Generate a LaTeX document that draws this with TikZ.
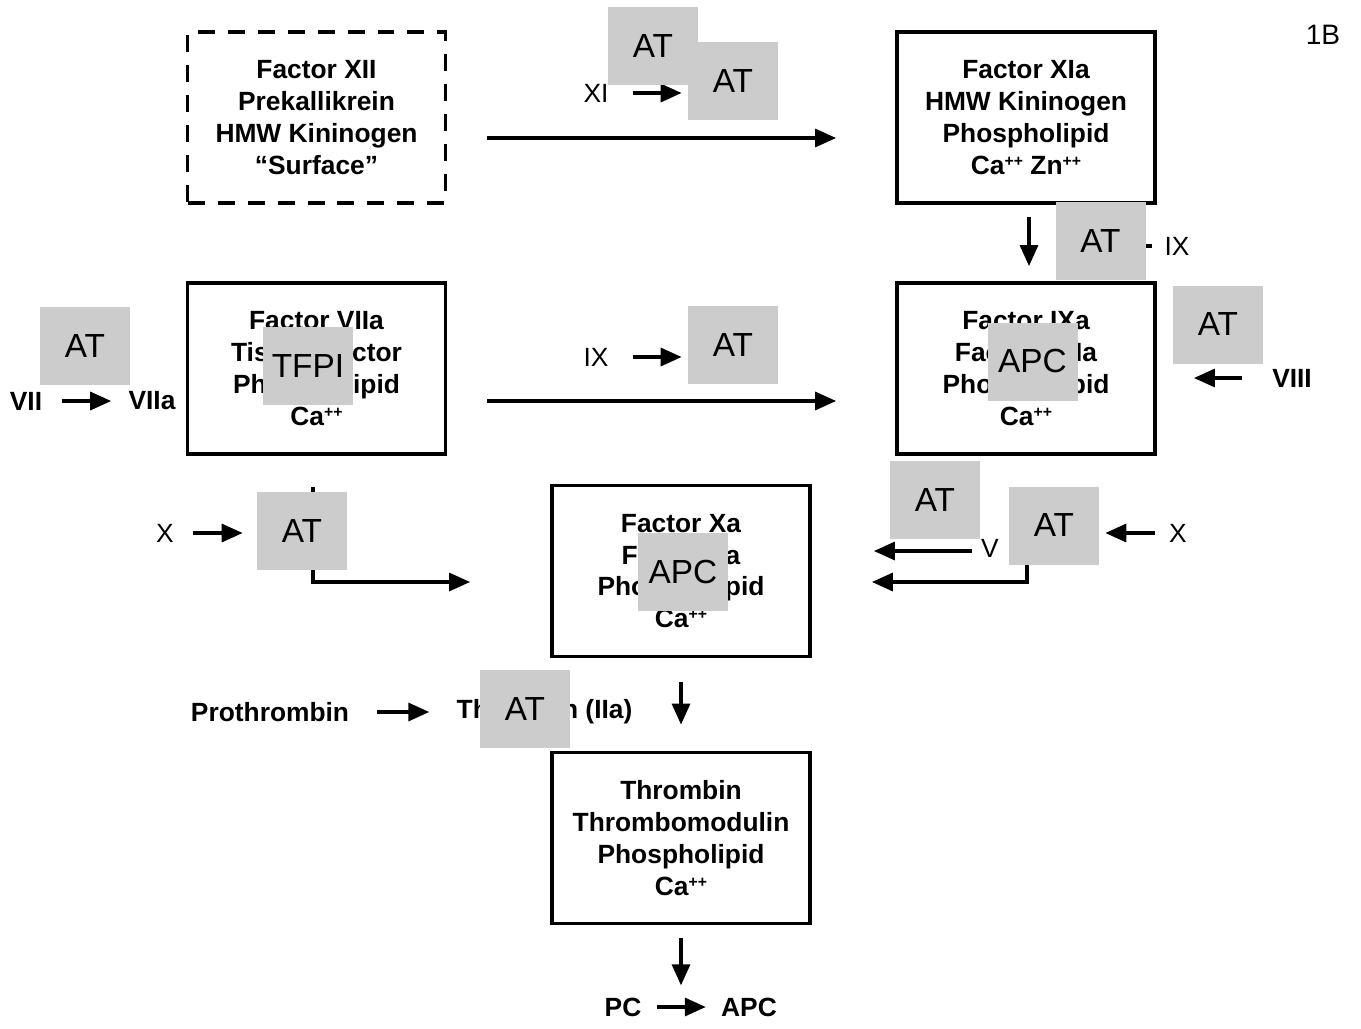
\documentclass[tikz,border=0pt]{standalone}
\usepackage{fontspec}
\setmainfont{Liberation Sans}
\usetikzlibrary{arrows.meta,backgrounds}
\definecolor{atgray}{HTML}{CCCCCC}
\newcommand{\ionpp}{\raisebox{0.55ex}{\fontsize{9}{9}\selectfont ++}}
\tikzset{
  cbox/.style={draw, line width=2.2pt, minimum width=5.16cm, minimum height=3.42cm, inner sep=0pt, align=center, font=\bfseries\fontsize{15}{18.1}\selectfont},
  gbox/.style={fill=atgray, minimum width=1.8cm, minimum height=1.56cm, inner sep=0pt, font=\fontsize{19}{22}\selectfont},
  lbl/.style={inner sep=0pt, font=\fontsize{15}{18}\selectfont},
  blbl/.style={inner sep=0pt, font=\bfseries\fontsize{15}{18}\selectfont},
  arr/.style={line width=1.9pt, -{Triangle[length=0.42cm,width=0.36cm]}},
}
\begin{document}
\begin{tikzpicture}[x=0.02cm,y=-0.02cm]
    \useasboundingbox (0,0) rectangle (1361,1028);
    % boxes
    \node[cbox, dash pattern=on 0.34cm off 0.26cm] (fxii) at (316.5,117.5) {Factor XII\\Prekallikrein\\HMW Kininogen\\“Surface”};
    \node[cbox] (fxia) at (1026,117.5) {Factor XIa\\HMW Kininogen\\Phospholipid\\Ca\ionpp{} Zn\ionpp};
    \node[cbox] (fviia) at (316.5,368.5) {Factor VIIa\\Tissue Factor\\Phospholipid\\Ca\ionpp};
    \node[cbox] (fixa) at (1026,368.5) {Factor IXa\\Factor VIIIa\\Phospholipid\\Ca\ionpp};
    \node[cbox] (fxa) at (681,571) {Factor Xa\\Factor Va\\Phospholipid\\Ca\ionpp};
    \node[cbox] (fth) at (681,838) {Thrombin\\Thrombomodulin\\Phospholipid\\Ca\ionpp};
    % labels
    \node[lbl] (xi) at (596,93) {XI};
    \node[lbl] (ixl) at (596,357) {IX};
    \node[lbl] (ixr) at (1177,246) {IX};
    \node[blbl] (vii) at (26,401) {VII};
    \node[blbl] (viia) at (152,401) {VIIa};
    \node[blbl] (viii) at (1292,378) {VIII};
    \node[lbl] (xl) at (165,533) {X};
    \node[lbl] (v) at (990,548) {V};
    \node[lbl] (xr) at (1178,533) {X};
    \node[blbl] (proth) at (270,712) {Prothrombin};
    \node[blbl] (thr) at (544.5,712) {Thrombin (IIa)};
    \node[blbl] (pc) at (623,1007) {PC};
    \node[blbl] (apc) at (749,1007) {APC};
    \node[lbl, font=\fontsize{16}{18}\selectfont] (fig) at (1323,35) {1B};
    % inhibitors
    \node[gbox] (at1) at (653,46) {AT};
    \node[gbox] (at2) at (733,81) {AT};
    \node[gbox] (at3) at (1100.5,241) {AT};
    \node[gbox] (at4) at (85,346) {AT};
    \node[gbox] (tfpi) at (308,366) {TFPI};
    \node[gbox] (at5) at (733,345) {AT};
    \node[gbox] (apc1) at (1032.5,361.5) {APC};
    \node[gbox] (at6) at (1218,324.5) {AT};
    \node[gbox] (at7) at (302,531) {AT};
    \node[gbox] (apc2) at (683,571.5) {APC};
    \node[gbox] (at8) at (935,500) {AT};
    \node[gbox] (at9) at (1054,525.5) {AT};
    \node[gbox] (at10) at (525,709) {AT};
    \coordinate (xin) at (313,487);
    \coordinate (vin) at (1027,540);
    % arrows
    \begin{pgfonlayer}{background}
    \draw[arr, shorten <=0.8cm, shorten >=1.18cm] ([yshift=-0.41cm]fxii.east) -- ([yshift=-0.41cm]fxia.west);
    \draw[arr, shorten <=0.8cm, shorten >=1.18cm] ([yshift=-0.65cm]fviia.east) -- ([yshift=-0.65cm]fixa.west);
    \draw[arr, shorten <=0.24cm, shorten >=0.3cm] ([xshift=0.06cm]fxia.south) -- ([xshift=0.06cm]fixa.north);
    \draw[arr, shorten <=0.48cm, shorten >=0.12cm] (xi.east) -- (xi.east -| at2.west);
    \draw[arr, shorten <=0.48cm, shorten >=0.12cm] (ixl.east) -- (ixl.east -| at5.west);
    \draw[arr, shorten <=0.24cm] (ixr.west) -- ([xshift=-0.9cm]ixr.west -| at3.east);
    \draw[arr, shorten <=0.4cm, shorten >=0.34cm] (vii.east) -- (viia.west);
    \draw[arr, shorten <=0.6cm, shorten >=0.74cm] (viii.west) -- (viii.west -| fixa.east);
    \draw[arr, shorten <=0.38cm, shorten >=0.28cm] (xl.east) -- (xl.east -| at7.west);
    \draw[arr, shorten >=1.6cm] (xin) |- (fxa.west |- 0,582);
    \draw[arr, shorten <=0.18cm, shorten >=1.24cm] ([yshift=-0.06cm]v.west) -- ([yshift=-0.06cm]v.west -| fxa.east);
    \draw[arr, shorten <=0.28cm, shorten >=0.12cm] (xr.west) -- (xr.west -| at9.east);
    \draw[arr, shorten >=1.2cm] (vin) |- (fxa.east |- 0,582);
    \draw[arr, shorten <=0.48cm, shorten >=0.52cm] (fxa.south) -- (fth.north);
    \draw[arr, shorten <=0.56cm, shorten >=0.54cm] (proth.east) -- (thr.west);
    \draw[arr, shorten <=0.26cm, shorten >=0.24cm] (fth.south) -- (fth.south |- pc.north);
    \draw[arr, shorten <=0.3cm, shorten >=0.3cm] (pc.east) -- (apc.west);
    \end{pgfonlayer}
\end{tikzpicture}
\end{document}
